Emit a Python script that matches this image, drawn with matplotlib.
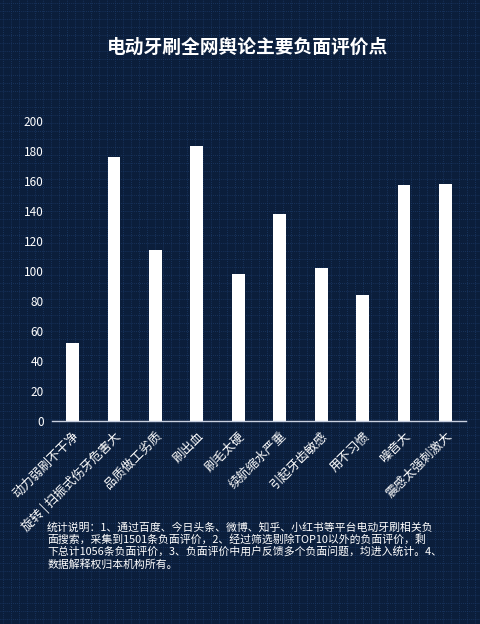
"""电动牙刷负面评价柱状图"""

import numpy as np
import matplotlib
matplotlib.use("Agg")
import matplotlib.pyplot as plt

plt.rcParams["font.family"] = ["Noto Sans CJK SC", "DejaVu Sans"]

categories = [
    "动力弱刷不干净", "旋转 | 扫振式伤牙危害大", "品质做工劣质", "刷出血", "刷毛太硬",
    "续航缩水严重", "引起牙齿敏感", "用不习惯", "噪音大", "震感太强刺激大",
]
counts = [52, 176, 114, 183, 98, 138, 102, 84, 157, 158]
y_ticks = [0, 20, 40, 60, 80, 100, 120, 140, 160, 180, 200]

title = "电动牙刷全网舆论主要负面评价点"
note = ("统计说明：1、通过百度、今日头条、微博、知乎、小红书等平台电动牙刷相关负\n"
        "面搜索，采集到1501条负面评价，2、经过筛选剔除TOP10以外的负面评价，剩\n"
        "下总计1056条负面评价，3、负面评价中用户反馈多个负面问题，均进入统计。4、\n"
        "数据解释权归本机构所有。")

BG = "#0b1e3b"
GRID = "#1c3a66"

fig = plt.figure(figsize=(4.81, 6.24), dpi=100, facecolor=BG)

# background grid pattern
bg = fig.add_axes([0, 0, 1, 1], zorder=0)
bg.set_facecolor(BG)
bg.set_xlim(0, 481)
bg.set_ylim(624, 0)
for x in np.arange(3, 481, 8):
    bg.axvline(x, color=GRID, lw=0.6, ls=(0, (1, 1.5)))
for y in np.arange(3, 624, 8):
    bg.axhline(y, color=GRID, lw=0.6, ls=(0, (1, 1.5)))
bg.axis("off")

ax = fig.add_axes([0.108, 0.3253, 0.861, 0.4813], zorder=1)
ax.patch.set_alpha(0)
x = np.arange(len(categories))
ax.bar(x, counts, width=0.31, color="white")
ax.set_xlim(-0.5, len(categories) - 0.5)
ax.set_ylim(0, 200)
ax.set_yticks(y_ticks)
ax.set_yticklabels([str(v) for v in y_ticks], color="white", fontsize=8.5)
ax.set_xticks(x)
ax.set_xticklabels(categories, rotation=45, ha="right", va="top",
                   rotation_mode="anchor", color="white", fontsize=9)
ax.tick_params(axis="both", length=0, pad=6)
for side in ["top", "right", "left"]:
    ax.spines[side].set_visible(False)
ax.spines["bottom"].set_color("#c8d0e0")
ax.spines["bottom"].set_linewidth(1)

fig.text(0.515, 0.925, title, color="white", fontsize=13.5, fontweight="bold",
         ha="center", va="center")
fig.text(0.098, 0.163, note, color="white", fontsize=7.8, ha="left", va="top",
         linespacing=1.15)

fig.savefig("out.png", dpi=100, facecolor=BG)
